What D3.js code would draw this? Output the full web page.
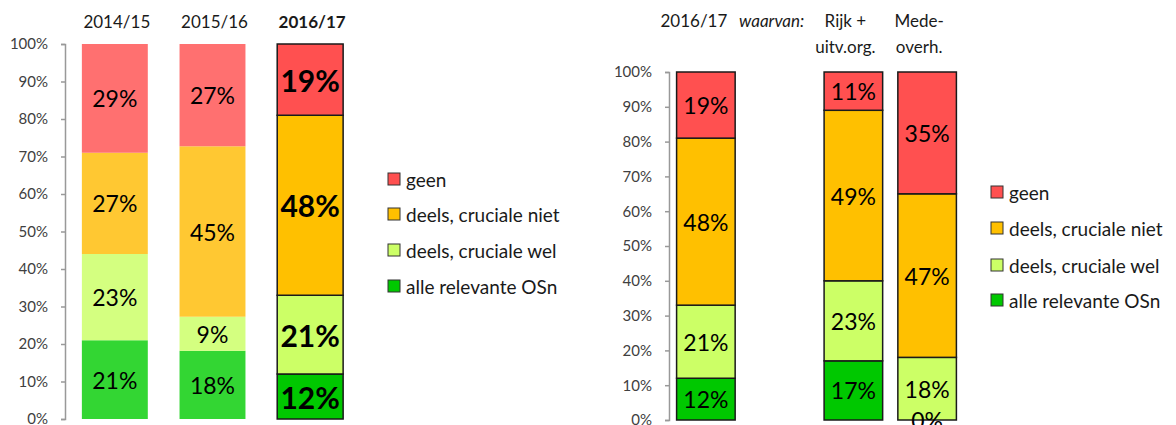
<!DOCTYPE html>
<html>
<head>
<meta charset="utf-8">
<script src="https://cdn.jsdelivr.net/npm/d3@7"></script>
<style>
  html, body { margin: 0; padding: 0; background: #fff; }
  svg { display: block; font-family: Lato, "Open Sans", sans-serif; }
</style>
</head>
<body>
<svg id="chart" width="1176" height="425"></svg>
<script>
// Stack order, bottom to top
const levels = ["alle relevante OSn", "deels, cruciale wel", "deels, cruciale niet", "geen"];

// Left panel: trend per school year
const years = ["2014/15", "2015/16", "2016/17"];
const yearAlle = [21, 18, 12];
const yearWel = [23, 9, 21];
const yearNiet = [27, 45, 48];
const yearGeen = [29, 27, 19];

// Right panel: 2016/17 split by government layer (second slot is a spacer)
const groups = ["2016/17", "waarvan:", "Rijk + uitv.org.", "Mede-overh."];
const groupHeaders = [["2016/17"], ["waarvan:"], ["Rijk +", "uitv.org."], ["Mede-", "overh."]];
const groupAlle = [12, null, 17, 0];
const groupWel = [21, null, 23, 18];
const groupNiet = [48, null, 49, 47];
const groupGeen = [19, null, 11, 35];

const yTickValues = [0, 0.1, 0.2, 0.3, 0.4, 0.5, 0.6, 0.7, 0.8, 0.9, 1];

const strongColors = {
  "alle relevante OSn": "#00C800",
  "deels, cruciale wel": "#CCFF66",
  "deels, cruciale niet": "#FFC000",
  "geen": "#FF5050"
};
const softColors = {
  "alle relevante OSn": "#33D633",
  "deels, cruciale wel": "#D4FF80",
  "deels, cruciale niet": "#FFC832",
  "geen": "#FF7070"
};

const svg = d3.select("#chart");

function rows(cats, alle, wel, niet, geen) {
  return cats.map((c, i) => ({
    cat: c,
    "alle relevante OSn": alle[i],
    "deels, cruciale wel": wel[i],
    "deels, cruciale niet": niet[i],
    "geen": geen[i]
  })).filter(d => d.geen !== null);
}

function drawAxis(y, x0) {
  const ax = svg.append("g")
    .attr("transform", `translate(${x0},0)`)
    .call(d3.axisLeft(y).tickValues(yTickValues).tickFormat(d3.format(".0%")).tickSize(4).tickPadding(13));
  ax.select(".domain").attr("stroke", "#999").attr("stroke-width", 1.5);
  ax.selectAll(".tick line").attr("stroke", "#999").attr("stroke-width", 1.5);
  ax.selectAll(".tick text")
    .attr("fill", "#404040")
    .style("font-size", "15px")
    .style("font-family", "Lato, sans-serif");
}

function drawBars(data, x, y, colorFor, strokeFor, labelSize, labelWeight) {
  const stacked = d3.stack().keys(levels).offset(d3.stackOffsetExpand)(data);
  const g = svg.append("g");
  stacked.forEach(layer => {
    layer.forEach(seg => {
      const d = seg.data;
      const bx = x(d.cat);
      const y0 = y(seg[0]);
      const y1 = y(seg[1]);
      const st = strokeFor(d.cat);
      g.append("rect")
        .attr("x", bx)
        .attr("y", y1)
        .attr("width", x.bandwidth())
        .attr("height", Math.max(0, y0 - y1))
        .attr("fill", colorFor(d.cat)[layer.key])
        .attr("stroke", st ? "#1a1a1a" : "none")
        .attr("stroke-width", st ? 1.5 : 0);
    });
  });
  stacked.forEach(layer => {
    layer.forEach(seg => {
      const d = seg.data;
      g.append("text")
        .attr("x", x(d.cat) + x.bandwidth() / 2)
        .attr("y", (y(seg[0]) + y(seg[1])) / 2)
        .attr("text-anchor", "middle")
        .attr("dominant-baseline", "central")
        .attr("fill", "#000")
        .style("font-size", labelSize(d.cat) + "px")
        .style("font-weight", labelWeight(d.cat))
        .text(d[layer.key] + "%");
    });
  });
}

function drawLegend(x0, yCenters) {
  const items = levels.slice().reverse();
  const g = svg.append("g");
  items.forEach((k, i) => {
    g.append("rect")
      .attr("x", x0).attr("y", yCenters[i] - 6)
      .attr("width", 12).attr("height", 12)
      .attr("fill", strongColors[k])
      .attr("stroke", "#333").attr("stroke-width", 1);
    g.append("text")
      .attr("x", x0 + 18).attr("y", yCenters[i])
      .attr("dominant-baseline", "central")
      .attr("fill", "#1a1a1a")
      .style("font-size", "19px")
      .text(k);
  });
}

// ---------- Left panel ----------
const yL = d3.scaleLinear().domain([0, 1]).range([419, 44]);
const xL = d3.scaleBand().domain(years).range([66, 359]).paddingInner(0.325).paddingOuter(0.1625);
drawAxis(yL, 65);
drawBars(
  rows(years, yearAlle, yearWel, yearNiet, yearGeen), xL, yL,
  c => c === "2016/17" ? strongColors : softColors,
  c => c === "2016/17",
  c => c === "2016/17" ? 30 : 23,
  c => c === "2016/17" ? "bold" : "normal"
);
svg.append("g").selectAll("text").data(years).join("text")
  .attr("x", d => xL(d) + xL.bandwidth() / 2 + 2)
  .attr("y", 28)
  .attr("text-anchor", "middle")
  .attr("fill", "#1a1a1a")
  .style("font-size", "17px")
  .style("font-weight", d => d === "2016/17" ? "bold" : "normal")
  .text(d => d);
drawLegend(388, [179, 214, 250, 286]);

// ---------- Right panel ----------
const yR = d3.scaleLinear().domain([0, 1]).range([420, 72]);
const xR = d3.scaleBand().domain(groups).range([669, 964]).paddingInner(0.206).paddingOuter(0.103);
drawAxis(yR, 669);
drawBars(
  rows(groups, groupAlle, groupWel, groupNiet, groupGeen), xR, yR,
  () => strongColors,
  () => true,
  () => 23,
  () => "normal"
);
const hdr = svg.append("g");
groups.forEach((c, i) => {
  groupHeaders[i].forEach((line, j) => {
    hdr.append("text")
      .attr("x", xR(c) + xR.bandwidth() / 2 - (i === 0 ? 12 : 8))
      .attr("y", 27 + j * 26)
      .attr("text-anchor", "middle")
      .attr("fill", "#1a1a1a")
      .style("font-size", "17px")
      .style("font-style", c === "waarvan:" ? "italic" : "normal")
      .text(line);
  });
});
drawLegend(991, [192, 228, 265, 300]);
</script>
</body>
</html>
